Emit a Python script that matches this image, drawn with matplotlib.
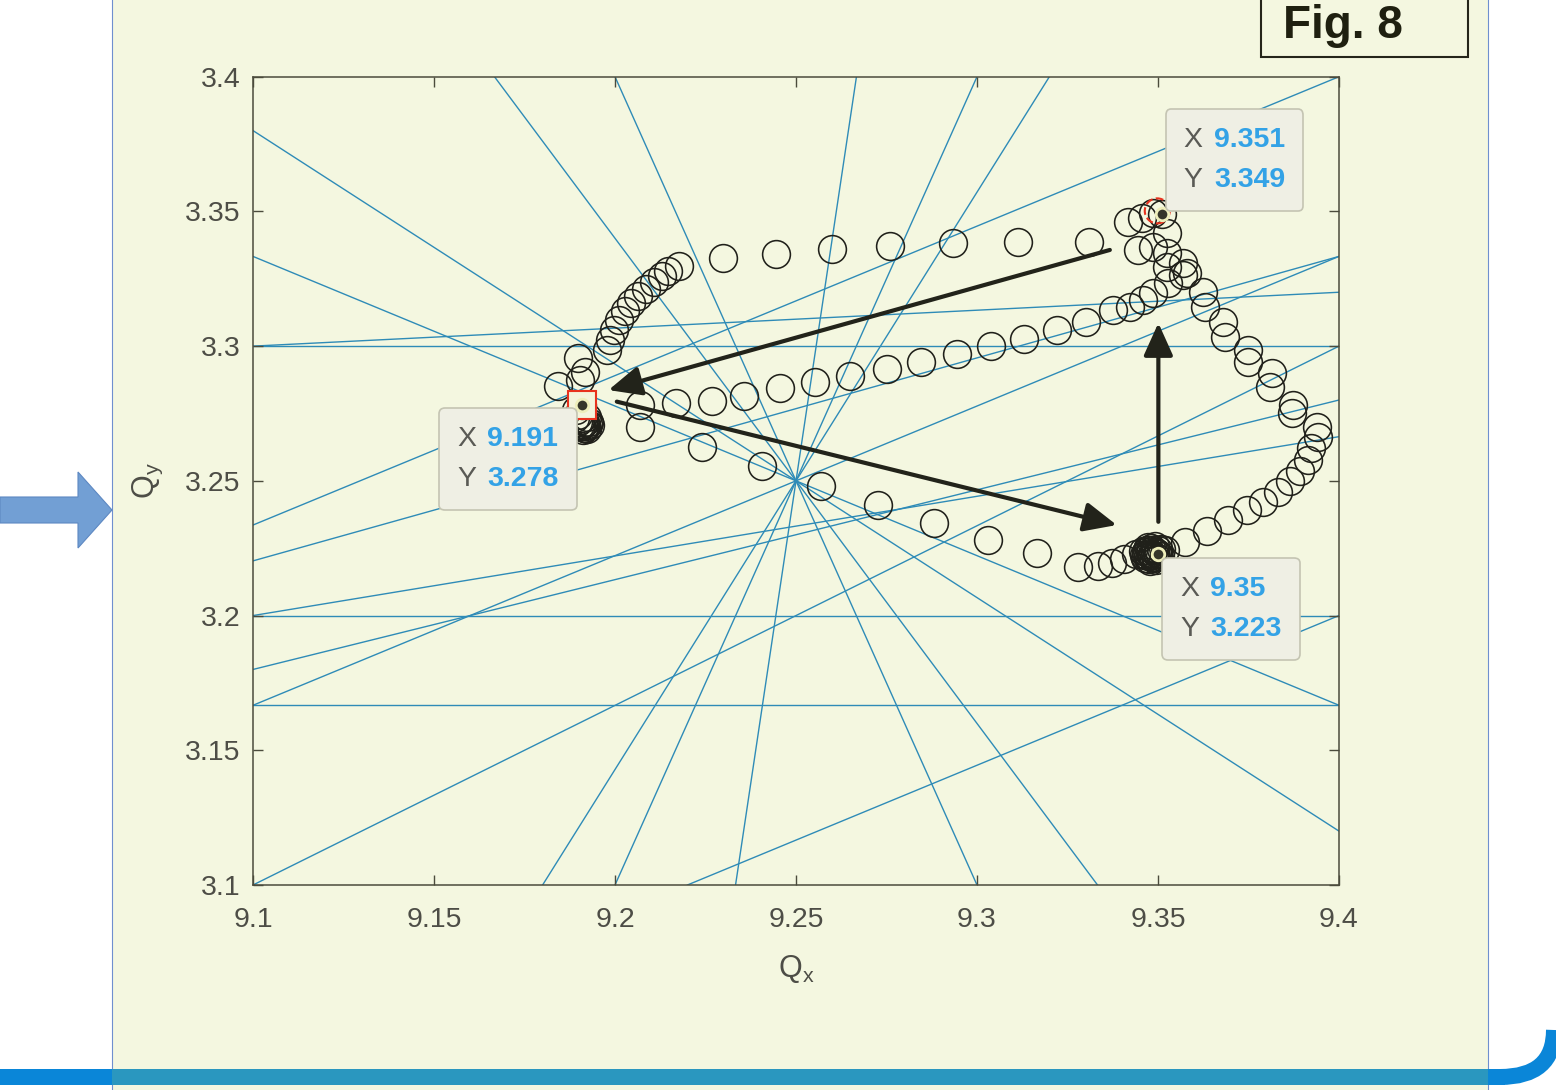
import matplotlib.pyplot as plt
from matplotlib.patches import Rectangle, Polygon, PathPatch
from matplotlib.path import Path
from matplotlib.lines import Line2D
from matplotlib.offsetbox import AnnotationBbox, TextArea, HPacker, VPacker

plt.rcParams['font.family'] = ['Liberation Sans', 'DejaVu Sans']
plt.rcParams['mathtext.fontset'] = 'custom'
plt.rcParams['mathtext.rm'] = 'Liberation Sans'

# resonance lines, each given by its two end points (Qx, Qy)
res_qx0 = [9.1667, 9.2, 9.2667, 9.3, 9.32,
           9.1, 9.1, 9.1, 9.1, 9.1,
           9.1, 9.1, 9.1, 9.1, 9.1, 9.1, 9.1, 9.22]
res_qy0 = [3.4, 3.4, 3.4, 3.4, 3.4,
           3.38, 3.3333, 3.3, 3.2, 3.1667,
           3.3, 3.2336, 3.2203, 3.2, 3.18, 3.1667, 3.1, 3.1]
res_qx1 = [9.3333, 9.3, 9.2333, 9.2, 9.18,
           9.4, 9.4, 9.4, 9.4, 9.4,
           9.4, 9.4, 9.4, 9.4, 9.4, 9.4, 9.4, 9.4]
res_qy1 = [3.1, 3.1, 3.1, 3.1, 3.1,
           3.12, 3.1667, 3.3, 3.2, 3.1667,
           3.32, 3.4, 3.3333, 3.2664, 3.28, 3.3333, 3.3, 3.2]

# measured tune points
qx = [9.1843, 9.1898, 9.1917, 9.1903, 9.1978, 9.1986, 9.1997, 9.2011, 9.2028,
      9.2044, 9.2064, 9.2086, 9.2108, 9.2130, 9.2146, 9.2177,
      9.2298, 9.2445, 9.2599, 9.2760, 9.2934, 9.3113, 9.3309,
      9.3417, 9.3456, 9.3486, 9.3445, 9.3486, 9.3525, 9.3525, 9.3525, 9.3569,
      9.3580, 9.3528, 9.3486, 9.3459, 9.351,
      9.2069, 9.2169, 9.2268, 9.2356, 9.2456, 9.2552, 9.2649, 9.2751, 9.2845,
      9.2945, 9.3039, 9.3130, 9.3221, 9.3301, 9.3376, 9.3423,
      9.2069, 9.2240, 9.2406, 9.2569, 9.2727, 9.2881, 9.3030, 9.3166, 9.3279,
      9.3334, 9.3373, 9.3406, 9.3439, 9.3467,
      9.3478, 9.3483, 9.3492, 9.3472, 9.3497, 9.3486, 9.350,
      9.3461, 9.3475, 9.3489, 9.3500, 9.3481, 9.3470, 9.3494,
      9.3459, 9.3464, 9.3478, 9.3494, 9.3506, 9.3508, 9.3492, 9.3472, 9.3483, 9.3467,
      9.3519, 9.3575, 9.3635, 9.3693, 9.3746, 9.3790, 9.3831, 9.3865, 9.3892,
      9.3914, 9.3923, 9.3942, 9.3939, 9.3870, 9.3873, 9.3809, 9.3815, 9.3749,
      9.3749, 9.3685, 9.3680, 9.3630, 9.3624, 9.3569,
      9.1903, 9.1909, 9.1917, 9.1898, 9.1912, 9.1892, 9.1923, 9.191,
      9.1903, 9.1917, 9.1898, 9.1925, 9.1912, 9.1890,
      9.1920, 9.1928, 9.1914, 9.1906, 9.1923, 9.1931]
qy = [3.2852, 3.2956, 3.2904, 3.2874, 3.2986, 3.3023, 3.3060, 3.3097, 3.3130,
      3.3160, 3.3186, 3.3212, 3.3238, 3.3260, 3.3279, 3.3297,
      3.3327, 3.3342, 3.3360, 3.3372, 3.3383, 3.3386, 3.3386,
      3.3461, 3.3476, 3.3494, 3.3357, 3.3368, 3.3420, 3.3346, 3.3293, 3.3308,
      3.3271, 3.3234, 3.3197, 3.3171, 3.349,
      3.2781, 3.2789, 3.2796, 3.2815, 3.2844, 3.2867, 3.2889, 3.2915, 3.2941,
      3.2971, 3.3001, 3.3026, 3.3060, 3.3090, 3.3134, 3.3145,
      3.2700, 3.2625, 3.2555, 3.2481, 3.2410, 3.2343, 3.2280, 3.2232, 3.2180,
      3.2184, 3.2195, 3.2210, 3.2228, 3.2236,
      3.2232, 3.2225, 3.2236, 3.2221, 3.2232, 3.2243, 3.223,
      3.2225, 3.2210, 3.2214, 3.2243, 3.2251, 3.2243, 3.2217,
      3.2240, 3.2214, 3.2203, 3.2206, 3.2221, 3.2247, 3.2258, 3.2254, 3.2217, 3.2225,
      3.2243, 3.2273, 3.2314, 3.2354, 3.2392, 3.2421, 3.2458, 3.2499, 3.2536,
      3.2577, 3.2622, 3.2663, 3.2700, 3.2752, 3.2781, 3.2848, 3.2900, 3.2941,
      3.2986, 3.3034, 3.3090, 3.3145, 3.3201, 3.3264,
      3.2726, 3.2733, 3.2718, 3.2744, 3.2711, 3.2763, 3.2737, 3.278,
      3.2707, 3.2696, 3.2718, 3.2711, 3.2689, 3.2733,
      3.2703, 3.2718, 3.2696, 3.2703, 3.2692, 3.2707]

# data tips
tip_qx = [9.351, 9.191, 9.35]
tip_qy = [3.349, 3.278, 3.223]

# arrows: (tail, head)
arrow_tail = [(9.3367, 3.3357), (9.2005, 3.2794), (9.3501, 3.2348)]
arrow_head = [(9.1982, 3.2837), (9.3386, 3.2336), (9.3501, 3.3086)]

xticks = [9.1, 9.15, 9.2, 9.25, 9.3, 9.35, 9.4]
yticks = [3.1, 3.15, 3.2, 3.25, 3.3, 3.35, 3.4]

W, H = 1556, 1090
fig = plt.figure(figsize=(W / 100, H / 100), dpi=100, facecolor='white')


def fx(px):
    return px / W


def fy(py):
    return 1 - py / H


cream = '#f4f7e0'
# slide panel
fig.patches.append(Rectangle((fx(112), 0), fx(1488) - fx(112), 1,
                             transform=fig.transFigure, fc=cream, ec='none', zorder=-5))
for xe in (112, 1488):
    fig.lines.append(Line2D([fx(xe), fx(xe)], [0, 1], transform=fig.transFigure,
                            color='#6f8fcf', lw=0.8, zorder=-4))

# bottom band with rounded corner at the right
fig.patches.append(Rectangle((0, fy(1085)), fx(1505), 16 / H, transform=fig.transFigure,
                             fc='#0a86d8', ec='none', zorder=-4))
fig.patches.append(Rectangle((fx(112), fy(1085)), fx(1488) - fx(112), 16 / H,
                             transform=fig.transFigure, fc='#2a97bf', ec='none', zorder=-3))
corner = Path([(fx(1500), fy(1077)), (fx(1554), fy(1077)), (fx(1554), fy(1030))],
              [Path.MOVETO, Path.CURVE3, Path.CURVE3])
fig.patches.append(PathPatch(corner, transform=fig.transFigure, fc='none',
                             ec='#0a86d8', lw=11.5, capstyle='butt', zorder=-4))

# pointer arrow on the left
fig.patches.append(Polygon([(fx(0), fy(497)), (fx(78), fy(497)), (fx(78), fy(472)),
                            (fx(112), fy(510)), (fx(78), fy(548)), (fx(78), fy(523)),
                            (fx(0), fy(523))], closed=True, transform=fig.transFigure,
                           fc='#729fd4', ec='#5d88c2', lw=0.8, zorder=-2))

# figure tag
fig.patches.append(Rectangle((fx(1261), fy(57)), fx(1468) - fx(1261), 70 / H,
                             transform=fig.transFigure, fc=cream, ec='#25251a',
                             lw=1.5, zorder=-2))
fig.text(fx(1283), fy(38), 'Fig. 8', fontsize=33, fontweight='bold',
         color='#1f2010', ha='left', va='baseline', zorder=-1)

ax = fig.add_axes([fx(253), fy(885), (1339 - 253) / W, (885 - 76.7) / H])
ax.set_facecolor(cream)
ax.set_zorder(2)

for x0, y0, x1, y1 in zip(res_qx0, res_qy0, res_qx1, res_qy1):
    ax.plot([x0, x1], [y0, y1], color='#2e8bb7', lw=1.0, zorder=1)

ax.plot(qx, qy, 'o', ms=20, mfc='none', mec='#20201a', mew=1.15, zorder=3)

# arrows showing the direction of the tune cycle
for tail, head in zip(arrow_tail, arrow_head):
    ax.annotate('', xy=head, xytext=tail,
                arrowprops=dict(arrowstyle='-|>,head_length=1.0,head_width=0.45',
                                mutation_scale=20, lw=3, color='#22231a',
                                shrinkA=0, shrinkB=0), zorder=4)

# selection markers of the data tips
ax.plot(tip_qx[1], tip_qy[1], 's', ms=19.5, mfc='#f4f4dc', mec='#e8321e', mew=1.5, zorder=5)
ax.scatter([tip_qx[0] - 0.0012], [tip_qy[0] + 0.0012], s=18 ** 2, marker='o',
           facecolors='none', edgecolors='#e8321e', linewidths=1.5, linestyles='--',
           zorder=5)
ax.plot(tip_qx, tip_qy, 'o', ms=9, mfc='#35352a', mec='#eeeebb', mew=2, ls='none', zorder=6)

lab_props = dict(color='#5a5a55', fontsize=20.5)
val_props = dict(color='#33a2e6', fontsize=20.5, fontweight='bold')
tip_offsets = [(3, 2), (-4, -2), (3, -3)]
tip_align = [(0, 0), (1, 1), (0, 1)]
for x, y, off, al in zip(tip_qx, tip_qy, tip_offsets, tip_align):
    rows = []
    for name, v in (('X', x), ('Y', y)):
        rows.append(HPacker(children=[TextArea(name, textprops=lab_props),
                                      TextArea(f'{v:.4g}', textprops=val_props)],
                            pad=0, sep=8, align='baseline'))
    box = VPacker(children=rows, pad=13, sep=10, align='left')
    ab = AnnotationBbox(box, (x, y), xybox=off, xycoords='data',
                        boxcoords='offset points', box_alignment=al, pad=0,
                        bboxprops=dict(boxstyle='round,pad=0,rounding_size=0.4',
                                       fc='#efefe4', ec='#c4c4b2', lw=1.2),
                        zorder=7)
    ax.add_artist(ab)

ax.set_xlim(9.1, 9.4)
ax.set_ylim(3.1, 3.4)
ax.set_xticks(xticks)
ax.set_yticks(yticks)
ax.set_xticklabels([f'{t:g}' for t in xticks])
ax.set_yticklabels([f'{t:g}' for t in yticks])
ax.tick_params(direction='in', top=True, right=True, length=7.5, width=1.0,
               color='#4b4b3c', labelcolor='#4d4d46', labelsize=20.5)
ax.tick_params(axis='x', pad=16)
ax.tick_params(axis='y', pad=9)
for sp in ax.spines.values():
    sp.set_color('#4b4b3c')
    sp.set_linewidth(1.1)

ax.set_xlabel(r'Q$_{\mathrm{x}}$', fontsize=22, color='#4d4d46', labelpad=14)
ax.set_ylabel(r'Q$_{\mathrm{y}}$', fontsize=22, color='#4d4d46', labelpad=14)

fig.savefig('out.png', dpi=100, facecolor='white')
